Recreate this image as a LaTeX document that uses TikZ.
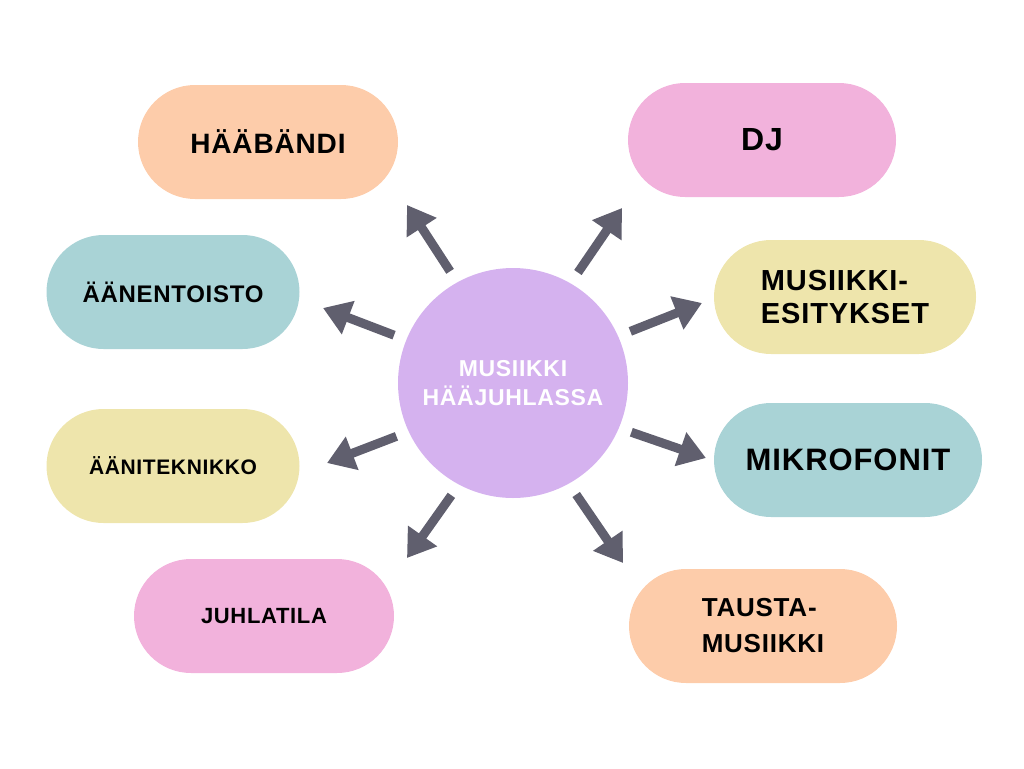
\documentclass[tikz,border=0pt]{standalone}
\usepackage{fontspec}
\setmainfont{Liberation Sans}[LetterSpace=3]
\usetikzlibrary{arrows.meta}

\definecolor{peach}{HTML}{FDCCAA}
\definecolor{pinkish}{HTML}{F2B2DC}
\definecolor{teal}{HTML}{A9D3D6}
\definecolor{sand}{HTML}{EEE5AC}
\definecolor{lilac}{HTML}{D5B2EF}
\definecolor{arrowgray}{HTML}{605F6E}

\begin{document}
\begin{tikzpicture}[
    x=1pt, y=-1pt,
    % pill shaped topic boxes
    pill/.style={rectangle, rounded corners=57pt, minimum height=114pt, inner sep=0pt, align=center, font=\bfseries},
    hub/.style={circle, fill=lilac, minimum size=230pt, inner sep=0pt, align=center, text=white, font=\bfseries\fontsize{23}{29}\selectfont},
    arr/.style={arrowgray, line width=9pt, shorten <=13pt, -{Triangle[length=27pt, width=34pt]}}
]

% canvas
\useasboundingbox (0,0) rectangle (1024,768);

% centre
\node[hub] (hub) at (513,383) {MUSIIKKI\\HÄÄJUHLASSA};

% left column
\node[pill, fill=peach, minimum width=260pt, font=\bfseries\fontsize{28}{31}\selectfont] (band) at (268,142) {HÄÄBÄNDI};
\node[pill, fill=teal, minimum width=253pt, font=\bfseries\fontsize{24}{27}\selectfont] (sound) at (173,292) {ÄÄNENTOISTO};
\node[pill, fill=sand, minimum width=253pt, font=\bfseries\fontsize{21}{25}\selectfont] (tech) at (173,466) {ÄÄNITEKNIKKO};
\node[pill, fill=pinkish, minimum width=260pt, font=\bfseries\fontsize{22}{27}\selectfont] (venue) at (264,616) {JUHLATILA};

% right column
\node[pill, fill=pinkish, minimum width=268pt, font=\bfseries\fontsize{32}{36}\selectfont] (dj) at (762,140) {DJ};
\node[pill, fill=sand, minimum width=262pt, align=left, font=\bfseries\fontsize{29}{33}\selectfont] (perf) at (845,297) {MUSIIKKI-\\ESITYKSET};
\node[pill, fill=teal, minimum width=268pt, font=\bfseries\fontsize{31}{36}\selectfont] (mics) at (848,460) {MIKROFONIT};
\node[pill, fill=peach, minimum width=268pt, align=left, font=\bfseries\fontsize{26}{36}\selectfont] (bgm) at (763,626) {TAUSTA-\\MUSIIKKI};

% arrow tips
\coordinate (bandTip) at (407,205);
\coordinate (soundTip) at (323,308);
\coordinate (techTip) at (327,463);
\coordinate (venueTip) at (407,558);
\coordinate (djTip) at (622,208);
\coordinate (perfTip) at (702,303);
\coordinate (micsTip) at (706,458);
\coordinate (bgmTip) at (623,563);

% arrows out of the centre
\draw[arr] (hub.119) -- (bandTip);
\draw[arr] (hub.158) -- (soundTip);
\draw[arr] (hub.205) -- (techTip);
\draw[arr] (hub.242) -- (venueTip);
\draw[arr] (hub.60) -- (djTip);
\draw[arr] (hub.24) -- (perfTip);
\draw[arr] (hub.-23) -- (micsTip);
\draw[arr] (hub.-61) -- (bgmTip);

\end{tikzpicture}
\end{document}
